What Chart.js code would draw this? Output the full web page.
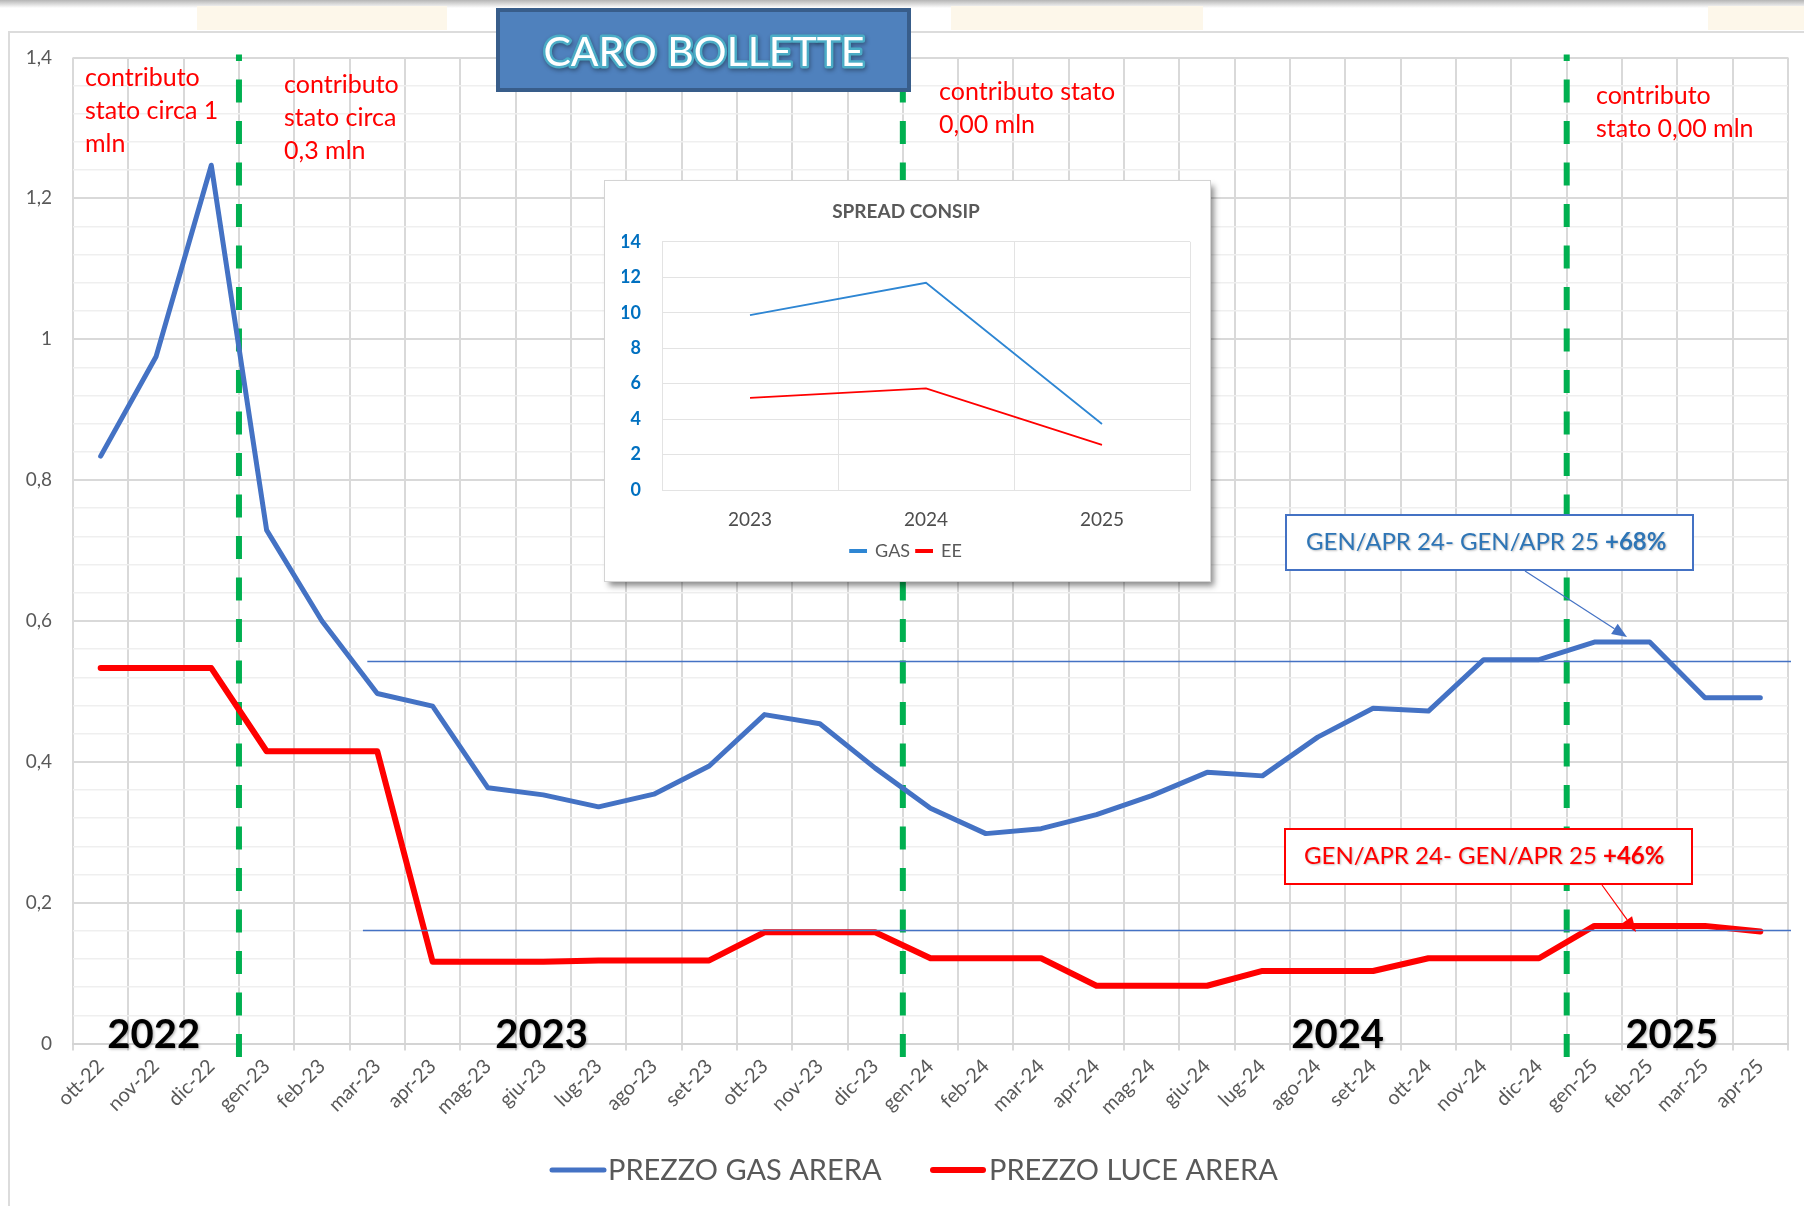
<!DOCTYPE html>
<html lang="it">
<head>
<meta charset="utf-8">
<title>Caro bollette</title>
<script src="https://cdn.jsdelivr.net/npm/chart.js@4.4.1/dist/chart.umd.min.js"></script>
<style>
  html, body { margin: 0; padding: 0; background: #fff; }
  #page { position: relative; width: 1804px; height: 1206px; overflow: hidden; background: #fff; }
  #topShade { position: absolute; left: 0; top: 0; width: 1804px; height: 8px; background: linear-gradient(#b5b5b5, rgba(255,255,255,0)); }
  .mark { position: absolute; top: 6px; height: 24px; background: #fdf7ea; }
  #frame { position: absolute; left: 8px; top: 31px; width: 1830px; height: 1220px; border: 2px solid #dcdcdc; }
  #main { position: absolute; left: 0; top: 0; }
  #inset { position: absolute; left: 605px; top: 181px; width: 605px; height: 400px; background: #fff;
           outline: 1px solid #d4d4d4; box-shadow: 4px 5px 6px rgba(0,0,0,0.45); }
  #spread { position: absolute; left: 0; top: 0; }
</style>
</head>
<body>
<div id="page">
  <div id="topShade"></div>
  <div class="mark" style="left:197px;width:250px"></div>
  <div class="mark" style="left:951px;width:252px"></div>
  <div class="mark" style="left:1708px;width:96px"></div>
  <div id="frame"></div>
  <canvas id="main" width="1804" height="1206"></canvas>
  <div id="inset"><canvas id="spread" width="605" height="400"></canvas></div>
</div>
<script>
// monthly prices (ARERA)
const months = ["ott-22", "nov-22", "dic-22", "gen-23", "feb-23", "mar-23", "apr-23", "mag-23",
  "giu-23", "lug-23", "ago-23", "set-23", "ott-23", "nov-23", "dic-23", "gen-24", "feb-24",
  "mar-24", "apr-24", "mag-24", "giu-24", "lug-24", "ago-24", "set-24", "ott-24", "nov-24",
  "dic-24", "gen-25", "feb-25", "mar-25", "apr-25"];
const gasArera = [0.834, 0.975, 1.247, 0.729, 0.600, 0.497, 0.479, 0.363, 0.353, 0.336, 0.354,
  0.394, 0.467, 0.454, 0.391, 0.334, 0.298, 0.305, 0.325, 0.352, 0.385, 0.380, 0.435, 0.476,
  0.472, 0.545, 0.545, 0.570, 0.570, 0.491, 0.491];
const luceArera = [0.533, 0.533, 0.533, 0.415, 0.415, 0.415, 0.116, 0.116, 0.116, 0.118, 0.118,
  0.118, 0.158, 0.158, 0.158, 0.121, 0.121, 0.121, 0.082, 0.082, 0.082, 0.103, 0.103, 0.103,
  0.121, 0.121, 0.121, 0.167, 0.167, 0.167, 0.159];

// horizontal reference lines (value, starting category)
const refValues = [0.5425, 0.1612];
const refFrom = [4.82, 4.74];
// year separators (between dic and gen)
const yearBreaks = [2.5, 14.5, 26.5];
const yearLabels = ["2022", "2023", "2024", "2025"];
const yearLabelAt = [0.96, 7.97, 22.36, 28.4];

const notes = [
  ["contributo", "stato circa 1", "mln"],
  ["contributo", "stato circa", "0,3 mln"],
  ["contributo stato", "0,00 mln"],
  ["contributo", "stato 0,00 mln"]
];
const callouts = [
  ["GEN/APR 24- GEN/APR 25 ", "+68%"],
  ["GEN/APR 24- GEN/APR 25 ", "+46%"]
];

// inset: spread consip
const spreadYears = ["2023", "2024", "2025"];
const spreadGas = [9.87, 11.69, 3.72];
const spreadEE = [5.2, 5.73, 2.54];

const FONT = "Lato";

function isMajor(v) {
  const r = v / 0.2;
  return Math.abs(r - Math.round(r)) < 1e-6;
}
function fmt(v) {
  return String(Math.round(v * 10) / 10).replace(".", ",");
}

function arrow(ctx, x1, y1, x2, y2, color) {
  const a = Math.atan2(y2 - y1, x2 - x1);
  const len = 15, half = 6;
  ctx.strokeStyle = color;
  ctx.fillStyle = color;
  ctx.lineWidth = 1.2;
  ctx.beginPath();
  ctx.moveTo(x1, y1);
  ctx.lineTo(x2 - len * Math.cos(a), y2 - len * Math.sin(a));
  ctx.stroke();
  ctx.beginPath();
  ctx.moveTo(x2, y2);
  ctx.lineTo(x2 - len * Math.cos(a) + half * Math.sin(a), y2 - len * Math.sin(a) - half * Math.cos(a));
  ctx.lineTo(x2 - len * Math.cos(a) - half * Math.sin(a), y2 - len * Math.sin(a) + half * Math.cos(a));
  ctx.closePath();
  ctx.fill();
}

function callout(ctx, parts, box, border, color, from, to) {
  ctx.fillStyle = "#fff";
  ctx.fillRect(box.x, box.y, box.w, box.h);
  ctx.strokeStyle = border;
  ctx.lineWidth = 2;
  ctx.strokeRect(box.x, box.y, box.w, box.h);
  ctx.save();
  ctx.shadowColor = "rgba(0,0,0,0.25)";
  ctx.shadowBlur = 2;
  ctx.shadowOffsetX = 1;
  ctx.shadowOffsetY = 1;
  ctx.fillStyle = color;
  ctx.textAlign = "left";
  ctx.textBaseline = "alphabetic";
  ctx.font = "24px " + FONT;
  ctx.fillText(parts[0], box.tx, box.ty);
  const w = ctx.measureText(parts[0]).width;
  ctx.font = "bold 24px " + FONT;
  ctx.fillText(parts[1], box.tx + w, box.ty);
  ctx.restore();
  arrow(ctx, from[0], from[1], to[0], to[1], border);
}

const extras = {
  id: "extras",
  beforeDatasetsDraw(chart) {
    const { ctx, chartArea, scales: { x } } = chart;
    ctx.save();
    ctx.strokeStyle = "#00b050";
    ctx.lineWidth = 6;
    ctx.setLineDash([23, 18.5]);
    yearBreaks.forEach((b) => {
      const px = x.getPixelForValue(b);
      ctx.beginPath();
      ctx.moveTo(px, chartArea.bottom + 13.5);
      ctx.lineTo(px, chartArea.top - 3);
      ctx.stroke();
    });
    ctx.restore();
  },
  afterDatasetsDraw(chart) {
    const { ctx, chartArea, scales: { x, y } } = chart;
    ctx.save();

    // reference lines
    ctx.strokeStyle = "#4472c4";
    ctx.lineWidth = 1.3;
    refValues.forEach((v, i) => {
      const py = Math.round(y.getPixelForValue(v)) + 0.5;
      ctx.beginPath();
      ctx.moveTo(x.getPixelForValue(refFrom[i]), py);
      ctx.lineTo(chartArea.right + 3, py);
      ctx.stroke();
    });

    // year labels
    ctx.save();
    ctx.font = "bold 40px " + FONT;
    ctx.fillStyle = "#000";
    ctx.textAlign = "center";
    ctx.textBaseline = "alphabetic";
    ctx.shadowColor = "rgba(0,0,0,0.35)";
    ctx.shadowBlur = 3;
    ctx.shadowOffsetX = 1;
    ctx.shadowOffsetY = 1;
    yearLabels.forEach((t, i) => {
      ctx.fillText(t, x.getPixelForValue(yearLabelAt[i]), chartArea.bottom + 4);
    });
    ctx.restore();

    // notes on state contributions
    const notePos = [[85, 78], [284, 85], [939, 92], [1596, 96]];
    ctx.font = "25px " + FONT;
    ctx.fillStyle = "#ff0000";
    ctx.textAlign = "left";
    ctx.textBaseline = "middle";
    notes.forEach((lines, i) => {
      lines.forEach((t, j) => ctx.fillText(t, notePos[i][0], notePos[i][1] + j * 33));
    });

    // callouts
    callout(ctx, callouts[0], { x: 1286, y: 515, w: 407, h: 55, tx: 1306, ty: 550 },
      "#4472c4", "#2e75b6", [1525, 571], [1627, 637]);
    callout(ctx, callouts[1], { x: 1285, y: 829, w: 407, h: 55, tx: 1304, ty: 864 },
      "#ff0000", "#ff0000", [1602, 885], [1636, 932]);

    // title box
    ctx.fillStyle = "#4f81bd";
    ctx.fillRect(498, 10, 411, 80);
    ctx.strokeStyle = "#385d8a";
    ctx.lineWidth = 4;
    ctx.strokeRect(498, 10, 411, 80);
    ctx.save();
    ctx.font = "41px " + FONT;
    ctx.textAlign = "center";
    ctx.textBaseline = "alphabetic";
    ctx.shadowColor = "rgba(0,0,0,0.35)";
    ctx.shadowBlur = 4;
    ctx.shadowOffsetX = 1;
    ctx.shadowOffsetY = 2;
    ctx.strokeStyle = "#4bacc6";
    ctx.lineWidth = 5;
    ctx.lineJoin = "round";
    ctx.strokeText("CARO BOLLETTE", 704, 66);
    ctx.shadowColor = "transparent";
    ctx.fillStyle = "#fff";
    ctx.fillText("CARO BOLLETTE", 704, 66);
    ctx.restore();

    // legend
    const legendAt = [[552, 604, 608], [933, 983, 989]];
    ctx.font = "29px " + FONT;
    ctx.fillStyle = "#595959";
    ctx.textAlign = "left";
    ctx.textBaseline = "middle";
    chart.data.datasets.forEach((ds, i) => {
      const [x1, x2, tx] = legendAt[i];
      ctx.strokeStyle = ds.borderColor;
      ctx.lineWidth = ds.borderWidth;
      ctx.lineCap = "round";
      ctx.beginPath();
      ctx.moveTo(x1, 1170);
      ctx.lineTo(x2, 1170);
      ctx.stroke();
      ctx.fillText(ds.label, tx, 1171);
    });
    ctx.restore();
  }
};

new Chart(document.getElementById("main"), {
  type: "line",
  data: {
    labels: months,
    datasets: [
      {
        label: "PREZZO GAS ARERA",
        data: gasArera,
        borderColor: "#4472c4",
        backgroundColor: "#4472c4",
        borderWidth: 5,
        pointRadius: 0,
        tension: 0,
        borderCapStyle: "round",
        borderJoinStyle: "round",
      },
      {
        label: "PREZZO LUCE ARERA",
        data: luceArera,
        borderColor: "#ff0000",
        backgroundColor: "#ff0000",
        borderWidth: 6,
        pointRadius: 0,
        tension: 0,
        borderCapStyle: "round",
        borderJoinStyle: "round",
      },
    ],
  },
  options: {
    responsive: false,
    animation: false,
    devicePixelRatio: 1,
    layout: { padding: { top: 57.5, right: 16, left: 0, bottom: 0 } },
    plugins: { legend: { display: false }, tooltip: { enabled: false } },
    scales: {
      x: {
        offset: true,
        grid: { offset: true, color: "#d9d9d9", lineWidth: 2, tickLength: 7 },
        border: { color: "#d4d4d4", width: 2 },
        ticks: {
          autoSkip: false,
          maxRotation: 45,
          minRotation: 45,
          color: "#595959",
          font: { family: FONT, size: 20 },
          padding: 4,
        },
        afterFit: (s) => { s.height = 162.5; },
      },
      y: {
        min: 0,
        max: 1.4,
        ticks: {
          stepSize: 0.04,
          autoSkip: false,
          callback: (v) => (isMajor(v) ? fmt(v) : ""),
          color: "#595959",
          font: { family: FONT, size: 19 },
          padding: 21,
        },
        grid: {
          drawTicks: false,
          color: (c) => (c.tick && isMajor(c.tick.value) ? "#d9d9d9" : "#efefef"),
          lineWidth: (c) => (c.tick && isMajor(c.tick.value) ? 2 : 1.5),
        },
        border: { display: false },
        afterFit: (s) => { s.width = 73; },
      },
    },
  },
  plugins: [extras],
});

new Chart(document.getElementById("spread"), {
  type: "line",
  data: {
    labels: spreadYears,
    datasets: [
      { label: "GAS", data: spreadGas, borderColor: "#2e86d3", backgroundColor: "#2e86d3",
        borderWidth: 1.8, pointRadius: 0, tension: 0 },
      { label: "EE", data: spreadEE, borderColor: "#ff0000", backgroundColor: "#ff0000",
        borderWidth: 1.8, pointRadius: 0, tension: 0 },
    ],
  },
  options: {
    responsive: false,
    animation: false,
    devicePixelRatio: 1,
    layout: { padding: { left: 17, right: 20, top: 0, bottom: 11 } },
    plugins: {
      title: {
        display: true,
        text: "SPREAD CONSIP",
        color: "#595959",
        font: { family: FONT, size: 19, weight: "bold" },
        padding: { top: 19, bottom: 19 },
      },
      legend: {
        position: "bottom",
        labels: { boxWidth: 16, boxHeight: 2, color: "#595959", font: { family: FONT, size: 18 }, padding: 6 },
      },
      tooltip: { enabled: false },
    },
    scales: {
      x: {
        offset: true,
        grid: { offset: true, color: "#e3e3e3", drawTicks: false },
        border: { color: "#e3e3e3" },
        ticks: { color: "#4d4d4d", font: { family: FONT, size: 19 }, padding: 18 },
        afterFit: (s) => { s.height = 46; },
      },
      y: {
        min: 0,
        max: 14,
        ticks: { stepSize: 2, color: "#0070c0", font: { family: FONT, size: 18, weight: "bold" }, padding: 21 },
        grid: { color: "#e3e3e3", drawTicks: false },
        border: { display: false },
        afterFit: (s) => { s.width = 40; },
      },
    },
  },
});
</script>
</body>
</html>
